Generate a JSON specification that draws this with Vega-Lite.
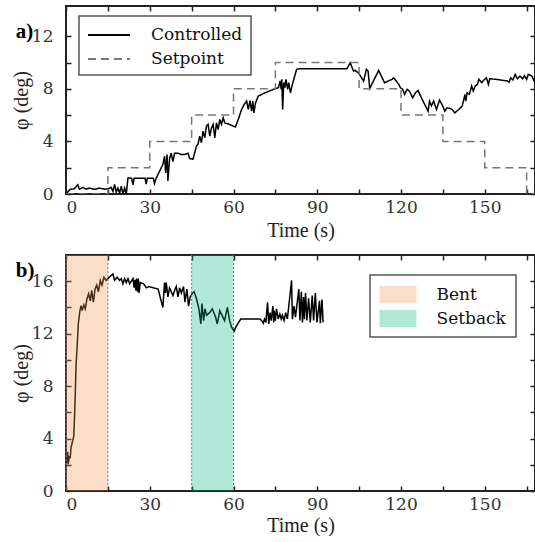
{
  "$schema": "https://vega.github.io/schema/vega-lite/v6.json",
  "padding": {"left": 10, "top": 4, "right": 0, "bottom": 0},
  "spacing": 61,
  "bounds": "flush",
  "config": {
    "font": "Liberation Serif",
    "view": {"stroke": "#222", "strokeWidth": 2},
    "axis": {
      "labelFont": "DejaVu Serif", "labelFontSize": 17, "labelColor": "#333",
      "titleFont": "Liberation Serif", "titleFontSize": 20, "titleFontWeight": "normal", "titleColor": "#222",
      "tickColor": "#222", "tickSize": -5, "tickWidth": 1.5, "domain": false, "grid": false
    },
    "legend": {"strokeWidth": 1.5, "labelFont": "DejaVu Serif", "labelFontSize": 17, "labelColor": "#111"}
  },
  "datasets": {
    "ctrl": [
      {"t":0,"v":0},{"t":1.5,"v":0.35},{"t":3,"v":0.4},{"t":4.2,"v":0.7},{"t":4.8,"v":0.37},{"t":6,"v":0.5},{"t":7.2,"v":0.37},{"t":8.4,"v":0.45},{"t":10.2,"v":0.36},{"t":12,"v":0.45},{"t":13.8,"v":0.36},{"t":15,"v":0.4},{"t":16.2,"v":0.5},{"t":16.8,"v":0.2},{"t":17.4,"v":0.72},{"t":18,"v":0.15},{"t":18.6,"v":0.45},{"t":19.2,"v":0.07},{"t":19.8,"v":0.6},{"t":20.4,"v":0},{"t":21,"v":0.45},{"t":21.6,"v":0},{"t":22.2,"v":1.22},{"t":23.5,"v":1.2},{"t":24,"v":0.7},{"t":24.4,"v":1.2},{"t":28.3,"v":1.2},{"t":28.7,"v":0.75},{"t":29.1,"v":1.2},{"t":31.3,"v":1.2},{"t":31.7,"v":0.8},{"t":32.3,"v":1.2},{"t":33.5,"v":1.73},{"t":34.7,"v":2.24},{"t":35.3,"v":2.87},{"t":35.7,"v":1.6},{"t":36.2,"v":3.0},{"t":36.5,"v":1.0},{"t":37.1,"v":2.7},{"t":37.7,"v":3.1},{"t":38.3,"v":2.46},{"t":38.9,"v":3.1},{"t":40.1,"v":3.1},{"t":41.3,"v":3.0},{"t":42.5,"v":3.0},{"t":43.7,"v":3.1},{"t":44.3,"v":2.7},{"t":45.5,"v":2.65},{"t":46.7,"v":3.63},{"t":47.3,"v":3.8},{"t":47.9,"v":4.4},{"t":48.5,"v":3.9},{"t":49.1,"v":4.78},{"t":49.7,"v":4.27},{"t":50.3,"v":5.16},{"t":50.9,"v":5.3},{"t":51.5,"v":4.4},{"t":52.1,"v":5.0},{"t":52.7,"v":5.3},{"t":53.3,"v":4.27},{"t":53.9,"v":5.41},{"t":54.5,"v":4.9},{"t":55.1,"v":5.67},{"t":55.7,"v":5.3},{"t":56.3,"v":5.8},{"t":56.9,"v":5.4},{"t":58.1,"v":5.33},{"t":59.9,"v":5.16},{"t":60.7,"v":5.1},{"t":61.7,"v":5.67},{"t":62.9,"v":6.43},{"t":63.8,"v":6.8},{"t":64.7,"v":7.07},{"t":65.3,"v":6.43},{"t":65.9,"v":7.1},{"t":66.5,"v":6.3},{"t":66.9,"v":7.07},{"t":67.3,"v":6.17},{"t":67.9,"v":6.94},{"t":68.9,"v":7.45},{"t":71.3,"v":7.7},{"t":74.3,"v":7.96},{"t":76.1,"v":8.08},{"t":76.7,"v":8.6},{"t":77.1,"v":7.96},{"t":77.3,"v":8.72},{"t":77.6,"v":6.43},{"t":78.0,"v":8.47},{"t":78.4,"v":8.08},{"t":78.8,"v":8.72},{"t":79.4,"v":7.96},{"t":79.8,"v":8.47},{"t":80.4,"v":7.7},{"t":81.1,"v":8.34},{"t":82.6,"v":9.48},{"t":83.8,"v":9.53},{"t":100.6,"v":9.53},{"t":101.8,"v":9.98},{"t":103,"v":9.35},{"t":103.6,"v":9.4},{"t":104.8,"v":9.2},{"t":106.6,"v":8.59},{"t":107.6,"v":9.48},{"t":108.2,"v":9.35},{"t":108.8,"v":8.03},{"t":112,"v":9.4},{"t":114.1,"v":8.46},{"t":115.5,"v":8.6},{"t":116.8,"v":8.72},{"t":117.4,"v":8.84},{"t":119.2,"v":8.34},{"t":119.8,"v":8.08},{"t":120.6,"v":7.96},{"t":121.3,"v":7.58},{"t":122.2,"v":7.96},{"t":123,"v":7.83},{"t":124.2,"v":7.32},{"t":125.2,"v":7.7},{"t":126.1,"v":7.88},{"t":127.3,"v":7.32},{"t":128.5,"v":6.81},{"t":129.7,"v":6.3},{"t":130.2,"v":7.07},{"t":130.9,"v":6.7},{"t":131.7,"v":7.07},{"t":132.7,"v":6.43},{"t":133.8,"v":7.14},{"t":134.7,"v":6.81},{"t":135.7,"v":6.3},{"t":136.5,"v":6.56},{"t":137.7,"v":6.5},{"t":138.3,"v":6.43},{"t":139.3,"v":6.17},{"t":140.7,"v":6.43},{"t":141.9,"v":6.68},{"t":142.5,"v":7.19},{"t":142.9,"v":7.58},{"t":143.2,"v":7.07},{"t":143.7,"v":7.7},{"t":144.5,"v":7.58},{"t":145.3,"v":8.21},{"t":145.9,"v":7.83},{"t":146.6,"v":8.21},{"t":147.4,"v":8.34},{"t":147.9,"v":8.72},{"t":148.9,"v":8.47},{"t":149.7,"v":8.67},{"t":150.6,"v":8.84},{"t":151.3,"v":8.34},{"t":151.8,"v":8.77},{"t":153.9,"v":8.72},{"t":155.7,"v":8.67},{"t":158.1,"v":8.6},{"t":158.7,"v":8.5},{"t":159.3,"v":8.84},{"t":160.1,"v":8.67},{"t":160.9,"v":9.1},{"t":161.7,"v":8.77},{"t":162.6,"v":8.97},{"t":163.6,"v":8.77},{"t":164.2,"v":9.0},{"t":165.0,"v":8.72},{"t":165.6,"v":9.1},{"t":166.9,"v":8.97},{"t":167.7,"v":8.6},{"t":168,"v":8.84}
    ],
    "setp": [
      {"t":0,"v":0},{"t":15,"v":2},{"t":30,"v":4},{"t":45,"v":6},{"t":60,"v":8},{"t":75,"v":10},{"t":105,"v":8},{"t":120,"v":6},{"t":135,"v":4},{"t":150,"v":2},{"t":165,"v":0},{"t":168,"v":0}
    ],
    "bot": [
      {"t":0,"v":2.8},{"t":0.4,"v":2.17},{"t":0.6,"v":3.0},{"t":0.8,"v":2.04},{"t":1.2,"v":2.67},{"t":1.5,"v":2.5},{"t":1.8,"v":3.31},{"t":2.8,"v":4.2},{"t":3.2,"v":6.5},{"t":3.6,"v":9.56},{"t":4.0,"v":11.1},{"t":4.4,"v":12.74},{"t":5.0,"v":13.76},{"t":5.4,"v":14.14},{"t":5.8,"v":13.76},{"t":6.4,"v":14.2},{"t":6.9,"v":13.9},{"t":7.5,"v":14.65},{"t":8.1,"v":15.04},{"t":8.7,"v":14.5},{"t":9.2,"v":15.3},{"t":9.8,"v":14.4},{"t":10.4,"v":15.4},{"t":11.0,"v":15.7},{"t":11.6,"v":15.2},{"t":12.3,"v":16.06},{"t":12.9,"v":15.7},{"t":13.6,"v":16.3},{"t":14.4,"v":16.06},{"t":15.0,"v":16.2},{"t":16.0,"v":16.4},{"t":16.8,"v":16.56},{"t":17.4,"v":16.06},{"t":18.3,"v":16.3},{"t":19.2,"v":16.06},{"t":19.8,"v":16.2},{"t":20.4,"v":15.8},{"t":21.0,"v":16.2},{"t":21.6,"v":15.9},{"t":22.2,"v":16.2},{"t":22.8,"v":15.8},{"t":23.4,"v":16.0},{"t":24.0,"v":16.2},{"t":24.4,"v":15.5},{"t":24.7,"v":16.1},{"t":25.0,"v":15.3},{"t":25.3,"v":16.2},{"t":25.6,"v":15.2},{"t":25.9,"v":16.2},{"t":26.2,"v":15.1},{"t":26.6,"v":15.9},{"t":27.8,"v":15.8},{"t":28.8,"v":15.5},{"t":29.6,"v":15.6},{"t":33.0,"v":15.4},{"t":34.7,"v":14.0},{"t":35.3,"v":15.9},{"t":35.6,"v":15.1},{"t":35.9,"v":15.9},{"t":36.5,"v":14.8},{"t":37.1,"v":15.5},{"t":37.7,"v":15.2},{"t":38.3,"v":14.9},{"t":38.9,"v":15.3},{"t":39.5,"v":15.6},{"t":40.1,"v":14.8},{"t":40.7,"v":15.5},{"t":41.3,"v":15.1},{"t":42.1,"v":15.6},{"t":42.6,"v":14.4},{"t":43.3,"v":15.4},{"t":43.9,"v":14.1},{"t":44.5,"v":14.8},{"t":45.3,"v":15.1},{"t":45.9,"v":15.2},{"t":46.7,"v":14.7},{"t":47.6,"v":13.9},{"t":48.3,"v":12.74},{"t":48.7,"v":14.3},{"t":49.3,"v":12.99},{"t":49.8,"v":13.9},{"t":50.4,"v":13.4},{"t":51.6,"v":13.64},{"t":52.4,"v":13.9},{"t":53.6,"v":13.25},{"t":54.2,"v":12.74},{"t":55.1,"v":13.76},{"t":55.9,"v":13.4},{"t":56.8,"v":12.99},{"t":57.8,"v":14.0},{"t":58.6,"v":12.99},{"t":59.3,"v":12.49},{"t":60.3,"v":12.2},{"t":60.8,"v":12.5},{"t":62.6,"v":13.12},{"t":69.5,"v":13.12},{"t":70.1,"v":12.99},{"t":70.7,"v":12.8},{"t":71.1,"v":13.1},{"t":71.6,"v":12.86},{"t":72.2,"v":14.4},{"t":72.6,"v":12.74},{"t":73.1,"v":13.6},{"t":73.5,"v":13.0},{"t":74.1,"v":14.1},{"t":74.4,"v":12.86},{"t":74.6,"v":13.76},{"t":75.0,"v":13.0},{"t":75.4,"v":13.9},{"t":76.0,"v":13.12},{"t":76.6,"v":13.5},{"t":77.1,"v":13.12},{"t":77.5,"v":13.4},{"t":78.1,"v":13.0},{"t":78.7,"v":13.6},{"t":79.3,"v":13.12},{"t":80.8,"v":16.06},{"t":81.1,"v":13.1},{"t":81.7,"v":14.1},{"t":82.2,"v":13.25},{"t":83.4,"v":15.4},{"t":83.8,"v":13.0},{"t":84.3,"v":15.2},{"t":84.7,"v":12.86},{"t":85.1,"v":14.8},{"t":85.4,"v":13.1},{"t":85.8,"v":15.1},{"t":86.3,"v":13.0},{"t":86.9,"v":14.7},{"t":87.5,"v":12.86},{"t":88.2,"v":14.9},{"t":88.7,"v":13.0},{"t":89.3,"v":15.1},{"t":89.9,"v":12.86},{"t":90.8,"v":14.5},{"t":91.1,"v":12.8},{"t":91.7,"v":14.6},{"t":92.1,"v":12.86}
    ],
    "phases": [
      {"phase":"Bent","start":0,"end":15},
      {"phase":"Setback","start":45,"end":60}
    ],
    "one": [{}]
  },
  "resolve": {"scale": {"color": "independent", "strokeDash": "independent", "fill": "independent"}},
  "vconcat": [
    {
      "width": 469, "height": 188,
      "layer": [
        {
          "data": {"name": "ctrl"},
          "mark": {"type": "line", "strokeWidth": 1.5, "clip": true},
          "encoding": {
            "x": {"field": "t", "type": "quantitative", "scale": {"domain": [0, 168], "nice": false, "zero": false},
              "axis": {"orient": "bottom", "title": "Time (s)", "values": [0,15,30,45,60,75,90,105,120,135,150,165], "labelExpr": "datum.value % 30 === 0 ? datum.label : ''", "labelPadding": 10, "titlePadding": 5}},
            "y": {"field": "v", "type": "quantitative", "scale": {"domain": [0, 14.3], "nice": false},
              "axis": {"orient": "left", "title": "φ (deg)", "values": [0,2,4,6,8,10,12], "labelExpr": "datum.value % 4 === 0 ? datum.label : ''", "labelPadding": 18, "titlePadding": 0}},
            "color": {"datum": "Controlled", "scale": {"domain": ["Controlled", "Setpoint"], "range": ["#000000", "#777777"]},
              "legend": {"orient": "none", "legendX": 13, "legendY": 10, "title": null, "symbolType": "M-2.1,0H2.1", "symbolSize": 400, "symbolStrokeWidth": 1.8, "symbolOffset": 11, "labelOffset": 31, "labelColor": "#111", "strokeColor": "#555", "fillColor": "#fff", "padding": 8, "rowPadding": 5}},
            "strokeDash": {"datum": "Controlled", "scale": {"domain": ["Controlled", "Setpoint"], "range": [[1, 0], [8, 5]]}}
          }
        },
        {
          "data": {"name": "setp"},
          "mark": {"type": "line", "strokeWidth": 1.5, "interpolate": "step-after", "clip": true},
          "encoding": {
            "x": {"field": "t", "type": "quantitative", "axis": {"orient": "top", "labels": false, "title": null, "values": [0,15,30,45,60,75,90,105,120,135,150,165]}},
            "y": {"field": "v", "type": "quantitative", "axis": {"orient": "right", "labels": false, "title": null, "values": [0,2,4,6,8,10,12]}},
            "color": {"datum": "Setpoint"},
            "strokeDash": {"datum": "Setpoint"}
          }
        },
        {
          "data": {"name": "one"},
          "mark": {"type": "text", "text": "a)", "font": "Liberation Serif", "fontSize": 21, "fontWeight": "bold", "color": "#000", "align": "left", "baseline": "alphabetic", "clip": false},
          "encoding": {
            "x": {"datum": -18, "type": "quantitative", "axis": null},
            "y": {"datum": 11.9, "type": "quantitative", "axis": null}
          }
        }
      ]
    },
    {
      "width": 469, "height": 236,
      "layer": [
        {
          "data": {"name": "bot"},
          "mark": {"type": "line", "strokeWidth": 1.5, "color": "#000", "clip": true},
          "encoding": {
            "x": {"field": "t", "type": "quantitative", "scale": {"domain": [0, 168], "nice": false, "zero": false},
              "axis": {"orient": "bottom", "title": "Time (s)", "values": [0,15,30,45,60,75,90,105,120,135,150,165], "labelExpr": "datum.value % 30 === 0 ? datum.label : ''", "labelPadding": 10, "titlePadding": 3}},
            "y": {"field": "v", "type": "quantitative", "scale": {"domain": [0, 18], "nice": false},
              "axis": {"orient": "left", "title": "φ (deg)", "values": [0,2,4,6,8,10,12,14,16], "labelExpr": "datum.value % 4 === 0 ? datum.label : ''", "labelPadding": 18, "titlePadding": 0}}
          }
        },
        {
          "data": {"name": "phases"},
          "mark": {"type": "rect", "opacity": 0.3},
          "encoding": {
            "x": {"field": "start", "type": "quantitative", "axis": {"orient": "top", "labels": false, "title": null, "values": [0,15,30,45,60,75,90,105,120,135,150,165]}},
            "x2": {"field": "end"},
            "y": {"datum": 0, "type": "quantitative", "axis": {"orient": "right", "labels": false, "title": null, "values": [0,2,4,6,8,10,12,14,16]}},
            "y2": {"datum": 18},
            "fill": {"field": "phase", "type": "nominal", "scale": {"domain": ["Bent", "Setback"], "range": ["#F58E4E", "#00B27D"]},
              "legend": {"orient": "none", "legendX": 304, "legendY": 20, "title": null, "symbolType": "M-1.85,-0.85H1.85V0.85H-1.85Z", "symbolSize": 400, "symbolStrokeWidth": 0, "symbolOffset": 8.5, "labelOffset": 28.5, "labelColor": "#111", "strokeColor": "#555", "fillColor": "#fff", "padding": 9.5, "rowPadding": 5}}
          }
        },
        {
          "data": {"name": "phases"},
          "mark": {"type": "rule", "color": "#777", "strokeDash": [2, 2], "strokeWidth": 1},
          "encoding": {"x": {"field": "start", "type": "quantitative", "axis": null}}
        },
        {
          "data": {"name": "phases"},
          "mark": {"type": "rule", "color": "#777", "strokeDash": [2, 2], "strokeWidth": 1},
          "encoding": {"x": {"field": "end", "type": "quantitative", "axis": null}}
        },
        {
          "data": {"name": "one"},
          "mark": {"type": "text", "text": "b)", "font": "Liberation Serif", "fontSize": 21, "fontWeight": "bold", "color": "#000", "align": "left", "baseline": "alphabetic", "clip": false},
          "encoding": {
            "x": {"datum": -18, "type": "quantitative", "axis": null},
            "y": {"datum": 16.36, "type": "quantitative", "axis": null}
          }
        }
      ]
    }
  ]
}
